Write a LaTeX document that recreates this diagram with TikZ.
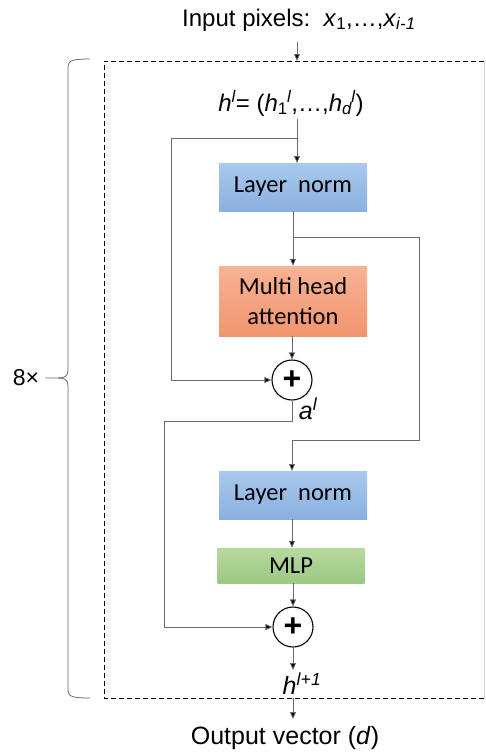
\documentclass[tikz,border=0pt]{standalone}
\usepackage{fontspec}
\setmainfont{Liberation Sans}
\newfontfamily\boxfont{Carlito}
\usetikzlibrary{arrows.meta}
\definecolor{lnA}{HTML}{A9C9ED}
\definecolor{lnB}{HTML}{8AB0E0}
\definecolor{orA}{HTML}{F8B394}
\definecolor{orB}{HTML}{F1956E}
\definecolor{grA}{HTML}{B6DA9E}
\definecolor{grB}{HTML}{9CC882}
\definecolor{wire}{HTML}{6A6A6A}
\newcommand\mysubsup[2]{\textsubscript{#2}\kern-0.5pt\textsuperscript{\itshape #1}}
\begin{document}
\begin{tikzpicture}[x=1pt,y=-1pt,
  lbl/.style={font=\fontsize{24}{27}\selectfont, inner sep=0pt},
  blk/.style={draw=none, minimum width=148pt, font=\boxfont\fontsize{24.5}{30}\selectfont, align=center, inner sep=0pt},
  lnbox/.style={blk, top color=lnA, bottom color=lnB, minimum height=48pt},
  wireline/.style={draw=wire, line width=0.8pt},
  arr/.style={wireline, -{Triangle[length=7pt,width=6pt,fill=black]}},
  plus/.style={circle, draw=black, line width=1.1pt, minimum size=40pt, inner sep=0pt, font=\fontsize{32}{32}\selectfont\bfseries}
]
\useasboundingbox (0,0) rectangle (486,755);

% texts
\node[lbl] (inp) at (299,20) {Input pixels:\ \ \textit{x}\textsubscript{1},\dots,\textit{x}\textsubscript{\itshape i\textup{-}1}};
\node[lbl] (hl) at (291,103) {\textit{h}\textsuperscript{\itshape l}= (\textit{h}\mysubsup{l}{1},\dots,\textit{h}\mysubsup{l}{\itshape d})};

% dashed box
\coordinate (btop) at (297,61);
\coordinate (bbot) at (293,698);
\draw[line width=1pt, dash pattern=on 5pt off 3pt] (484,61) -- (104,61) -- (104,698) -- (484,698);
\draw[gray!35, line width=0.6pt] (484,61) -- (484,698);

% blocks
\node[lnbox] (ln1) at (293,187) {Layer\ \ norm};
\node[blk, top color=orA, bottom color=orB, minimum height=70pt] (mha) at (293,301) {Multi head\\attention};
\node[plus] (c1) at (292,380) {+};
\node[lnbox] (ln2) at (293,495) {Layer\ \ norm};
\node[blk, top color=grA, bottom color=grB, minimum height=35pt, minimum width=147pt] (mlp) at (291,565.5) {MLP};
\node[plus] (c2) at (293,627) {+};
\node[lbl, font=\fontsize{25}{27}\selectfont] (hout) at (302,684) {\textit{h}\textsuperscript{\itshape l\textup{+}1}};
\node[lbl, font=\fontsize{25}{28}\selectfont] (out) at (285,738) {Output vector (\textit{d})};
\node[lbl, font=\fontsize{25}{27}\selectfont] (al) at (308,409) {\textit{a}\textsuperscript{\itshape l}};
\node[lbl, font=\fontsize{23}{25}\selectfont] (eight) at (26,378) {8×};

% connectors
\draw[arr] (297,42) -- (btop);
\draw[arr] (297,119) -- (297,163);
\draw[wireline] (297,138) -- (171,138) -- (171,380);
\draw[arr] (171,380) -- (c1.west);
\draw[arr] (ln1.south) -- (mha.north);
\draw[wireline] (293,237) -- (419,237) -- (419,440) -- (292,440);
\draw[arr] (292,440) -- (292,471);
\draw[arr] (mha.south -| c1) -- (c1.north);
\draw[wireline] (c1.south) -- (292,421) -- (164,421) -- (164,627);
\draw[arr] (164,627) -- (c2.west);
\draw[arr] (ln2.south -| 292,0) -- (mlp.north -| 292,0);
\draw[arr] (mlp.south -| c2) -- (c2.north);
\draw[arr] (c2.south) -- (293,670);
\draw[arr] (bbot) -- (293,719);

% brace
\draw[wire, line width=0.8pt] (90,59) .. controls (75,59) and (68,60) .. (68,66) -- (68,370)
  .. controls (68,376) and (65,378) .. (58,378) -- (45,378);
\draw[wire, line width=0.8pt] (90,698) .. controls (75,698) and (68,697) .. (68,691) -- (68,386)
  .. controls (68,380) and (65,378) .. (58,378);
\end{tikzpicture}
\end{document}
